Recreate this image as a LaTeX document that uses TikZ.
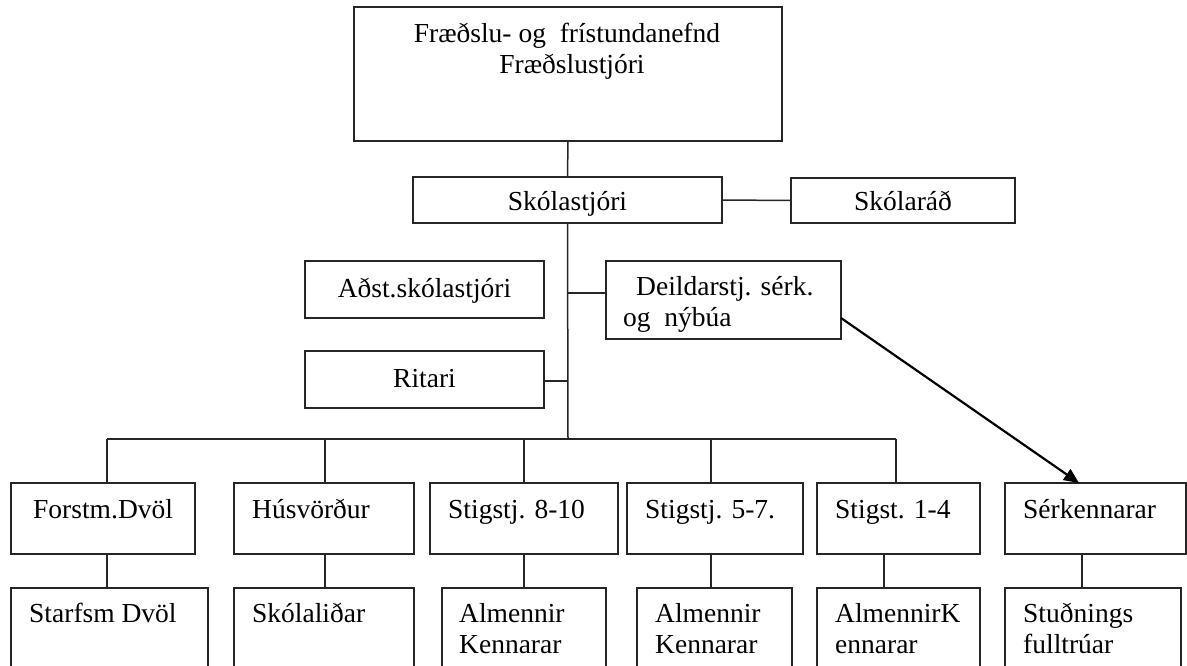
\documentclass[tikz,border=0pt]{standalone}
\usepackage{fontspec}
\setmainfont{Liberation Serif}
\usetikzlibrary{arrows.meta}
\begin{document}
\begin{tikzpicture}[x=1pt,y=-1pt,
  box/.style={draw=black!85, line width=1.5pt, inner sep=0pt},
  conn/.style={draw=black!85, line width=1.5pt},
  arr/.style={line width=2.2pt, -{Triangle[length=15pt,width=13pt]}},
  txt/.style={inner sep=0pt, anchor=base west, font=\fontsize{27.5}{31}\selectfont},
  ctxt/.style={inner sep=0pt, anchor=base, font=\fontsize{27.5}{31}\selectfont}]
\useasboundingbox (0,0) rectangle (1187,666);
\clip (0,0) rectangle (1187,666);
% boxes
\node[box, minimum width=428pt, minimum height=134pt] (top) at (568,74) {};
\node[box, minimum width=309pt, minimum height=46pt] (sk) at (567.5,200) {};
\node[box, minimum width=224pt, minimum height=45pt] (skr) at (903,200.5) {};
\node[box, minimum width=239pt, minimum height=57pt] (adst) at (424.5,289.5) {};
\node[box, minimum width=235pt, minimum height=78pt] (deild) at (723.5,300) {};
\node[box, minimum width=239pt, minimum height=57pt] (rit) at (424.5,379.5) {};
% row 1
\node[box, minimum width=184pt, minimum height=71pt] (f1) at (103,518.5) {};
\node[box, minimum width=180pt, minimum height=71pt] (h1) at (324,518.5) {};
\node[box, minimum width=188pt, minimum height=71pt] (s8) at (524,518.5) {};
\node[box, minimum width=176pt, minimum height=71pt] (s5) at (715,518.5) {};
\node[box, minimum width=163pt, minimum height=71pt] (s1) at (898.5,518.5) {};
\node[box, minimum width=181pt, minimum height=71pt] (se) at (1095.5,518.5) {};
% row 2
\node[box, minimum width=197pt, minimum height=112pt] (f2) at (109.5,644) {};
\node[box, minimum width=180pt, minimum height=112pt] (h2) at (324,644) {};
\node[box, minimum width=164pt, minimum height=112pt] (a8) at (524,644) {};
\node[box, minimum width=155pt, minimum height=112pt] (a5) at (714.5,644) {};
\node[box, minimum width=163pt, minimum height=112pt] (a1) at (898.5,644) {};
\node[box, minimum width=176pt, minimum height=112pt] (st) at (1093,644) {};
% texts
\node[ctxt] (ttop1) at (567,43) {Fræðslu- og\ \ frístundanefnd};
\node[ctxt] (ttop2) at (572,74) {Fræðslustjóri};
\node[ctxt] (tsk) at (567.5,211) {Skólastjóri};
\node[ctxt] (tskr) at (903,211) {Skólaráð};
\node[ctxt] (tadst) at (424.5,297) {Aðst.skólastjóri};
\node[ctxt] (trit) at (424.5,387) {Ritari};
\node[txt] (td1) at (636,295) {Deildarstj. sérk.};
\node[txt] (td2) at (623,326) {og\ \ nýbúa};
\node[txt] (tf1) at (33,518) {Forstm.Dvöl};
\node[txt] (th1) at (252,518) {Húsvörður};
\node[txt] (ts8) at (448,518) {Stigstj. 8-10};
\node[txt] (ts5) at (645,518) {Stigstj. 5-7.};
\node[txt] (ts1) at (835,518) {Stigst. 1-4};
\node[txt] (tse) at (1023,518) {Sérkennarar};
\node[txt] (tf2) at (29,622) {Starfsm Dvöl};
\node[txt] (th2) at (252,622) {Skólaliðar};
\node[txt] (ta8a) at (459,622) {Almennir};
\node[txt] (ta8b) at (459,653) {Kennarar};
\node[txt] (ta5a) at (655,622) {Almennir};
\node[txt] (ta5b) at (655,653) {Kennarar};
\node[txt] (ta1a) at (835,622) {AlmennirK};
\node[txt] (ta1b) at (835,653) {ennarar};
\node[txt] (tsta) at (1023,622) {Stuðnings};
\node[txt] (tstb) at (1023,653) {fulltrúar};
% coordinates
\coordinate (sp) at (568,439);
\coordinate (jd) at (568,293);
\coordinate (jr) at (568,381);
\coordinate (d1) at (107,439);
\coordinate (d2) at (325,439);
\coordinate (d3) at (524,439);
\coordinate (d4) at (711,439);
\coordinate (d5) at (896,439);
\coordinate (v1) at (107,554);
\coordinate (v2) at (325,554);
\coordinate (v3) at (524,554);
\coordinate (v4) at (711,554);
\coordinate (v5) at (884,554);
\coordinate (v6) at (1082,554);
\coordinate (arrS) at (841,318);
\coordinate (arrE) at (1079,483);
% connectors
\draw[conn] (top.south) -- (sk.north);
\draw[conn] (sk.east) -- (skr.west);
\draw[conn] (sk.south) -- (sp);
\draw[conn] (jd) -- (jd -| deild.west);
\draw[conn] (jr) -- (jr -| rit.east);
\draw[conn] (d1) -- (d5);
\draw[conn] (d1) -- (d1 |- f1.north);
\draw[conn] (d2) -- (d2 |- h1.north);
\draw[conn] (d3) -- (d3 |- s8.north);
\draw[conn] (d4) -- (d4 |- s5.north);
\draw[conn] (d5) -- (d5 |- s1.north);
\draw[conn] (v1) -- (v1 |- f2.north);
\draw[conn] (v2) -- (v2 |- h2.north);
\draw[conn] (v3) -- (v3 |- a8.north);
\draw[conn] (v4) -- (v4 |- a5.north);
\draw[conn] (v5) -- (v5 |- a1.north);
\draw[conn] (v6) -- (v6 |- st.north);
\draw[arr] (arrS) -- (arrE);
\end{tikzpicture}
\end{document}
